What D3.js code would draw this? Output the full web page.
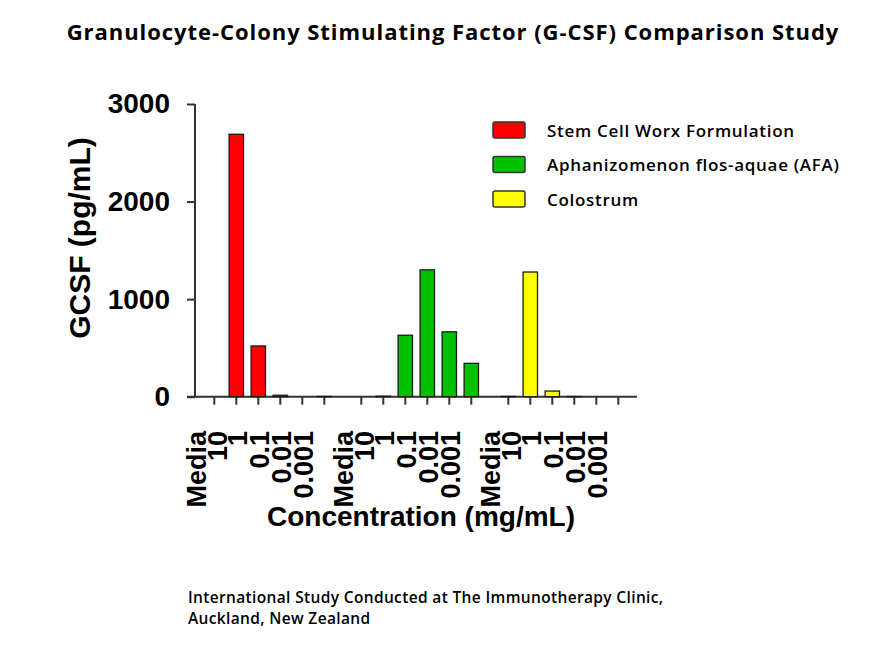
<!DOCTYPE html>
<html>
<head>
<meta charset="utf-8">
<script src="https://cdn.jsdelivr.net/npm/d3@7"></script>
<style>
  body { margin: 0; background: #fff; }
  svg { display: block; }
</style>
</head>
<body>
<div id="chart"></div>
<script>
// values, order follows the concentration labels
const groups = ['Stem Cell Worx Formulation', 'Aphanizomenon flos-aquae (AFA)', 'Colostrum'];
const concentrations = ['Media', '10', '1', '0.1', '0.01', '0.001'];
const scwValues = [0, 2690, 520, 15, 0, 3];
const afaValues = [0, 5, 630, 1300, 665, 342];
const colostrumValues = [3, 1278, 58, 2, 0, 0];
const groupColors = ['#ff0000', '#00c000', '#ffff00'];
const yTicks = [0, 1000, 2000, 3000];

const width = 884, height = 669;
const svg = d3.select('#chart').append('svg').attr('width', width).attr('height', height);

const rows = [];
[scwValues, afaValues, colostrumValues].forEach((vals, g) => {
    vals.forEach((v, i) => rows.push({group: groups[g], conc: concentrations[i], i: i, value: v, color: groupColors[g]}));
});

const outer = d3.scaleBand().domain(groups).range([203.3, 203.3 + 147 * 3]);
const inner = d3.scaleBand().domain(concentrations).range([0, 132]);
const xPos = (g, c) => outer(g) + inner(c) + inner.bandwidth() / 2;
const y = d3.scaleLinear().domain([0, 3000]).range([396.7, 104]);

// title
svg.append('text').attr('x', 453).attr('y', 40).attr('text-anchor', 'middle')
    .style('font-family', 'Open Sans').style('font-weight', 700).style('font-size', '22px')
    .style('letter-spacing', '0.95px')
    .text('Granulocyte-Colony Stimulating Factor (G-CSF) Comparison Study');

// y axis
const yAxis = svg.append('g').attr('transform', 'translate(195,0)')
    .call(d3.axisLeft(y).tickValues(yTicks).tickSize(8).tickPadding(17).tickFormat(d3.format('d')));
yAxis.select('.domain').attr('d', `M0,${y(0)}V${y(3000)}`).attr('stroke', '#333').attr('stroke-width', 2);
yAxis.selectAll('.tick line').attr('stroke', '#333').attr('stroke-width', 2);
yAxis.selectAll('.tick text').style('font-family', 'Liberation Sans, Arial').style('font-weight', 700)
    .style('font-size', '28px').attr('fill', '#000');

svg.append('text').attr('transform', `translate(90, 238) rotate(-90)`).attr('text-anchor', 'middle')
    .style('font-family', 'Liberation Sans, Arial').style('font-weight', 700).style('font-size', '30px')
    .text('GCSF (pg/mL)');

// x axis: baseline and ticks
const xAxis = svg.append('g');
xAxis.append('line').attr('x1', 187).attr('x2', 637).attr('y1', y(0)).attr('y2', y(0))
    .attr('stroke', '#333').attr('stroke-width', 2);
xAxis.selectAll('.xtick').data(rows).enter().append('line')
    .attr('x1', d => xPos(d.group, d.conc)).attr('x2', d => xPos(d.group, d.conc))
    .attr('y1', y(0)).attr('y2', y(0) + 8).attr('stroke', '#333').attr('stroke-width', 2);

// bars
svg.selectAll('.bar').data(rows).enter().append('rect')
    .attr('x', d => xPos(d.group, d.conc) - 7.2).attr('width', 14.4)
    .attr('y', d => y(d.value)).attr('height', d => y(0) - y(d.value))
    .attr('fill', d => d.color).attr('stroke', '#1a1a1a').attr('stroke-width', 1.3);

// concentration labels (offset one slot to the left, as in the source figure)
const labelX = d => d.i === 0 ? xPos(d.group, concentrations[0]) - 18
    : d.i === 1 ? xPos(d.group, concentrations[0]) + 3
    : xPos(d.group, concentrations[d.i - 1]) + 1;
svg.selectAll('.xlabel').data(rows).enter().append('text')
    .attr('transform', d => `translate(${labelX(d)}, 431) rotate(-90)`)
    .attr('text-anchor', 'end').attr('dy', '0.36em')
    .style('font-family', 'Liberation Sans, Arial').style('font-weight', 700).style('font-size', '27px')
    .text(d => d.conc);

svg.append('text').attr('x', 421).attr('y', 526).attr('text-anchor', 'middle')
    .style('font-family', 'Liberation Sans, Arial').style('font-weight', 700).style('font-size', '28px')
    .text('Concentration (mg/mL)');

// legend
const legend = svg.selectAll('.legend').data(groups).enter().append('g')
    .attr('transform', (d, i) => `translate(493, ${122 + i * 34.5})`);
legend.append('rect').attr('width', 32).attr('height', 16).attr('rx', 2)
    .attr('fill', (d, i) => groupColors[i]).attr('stroke', '#333').attr('stroke-width', 1.5);
legend.append('text').attr('x', 54).attr('y', 14.5)
    .style('font-family', 'Open Sans').style('font-weight', 600).style('font-size', '17px')
    .style('letter-spacing', '0.7px')
    .text(d => d);

// footer
const foot = svg.append('text').style('font-family', 'Open Sans').style('font-weight', 600)
    .style('font-size', '15.5px').style('letter-spacing', '0.35px');
foot.append('tspan').attr('x', 188).attr('y', 603).text('International Study Conducted at The Immunotherapy Clinic,');
foot.append('tspan').attr('x', 188).attr('y', 624).text('Auckland, New Zealand');
</script>
</body>
</html>
